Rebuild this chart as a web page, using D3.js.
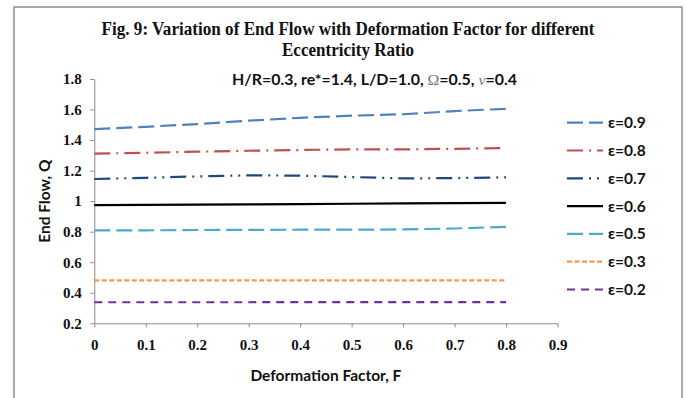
<!DOCTYPE html>
<html>
<head>
<meta charset="utf-8">
<script src="https://cdn.jsdelivr.net/npm/d3@7"></script>
<style>
  body { margin: 0; background: #fff; }
  svg { display: block; }
</style>
</head>
<body>
<main></main>
<script>
// deformation factor F
const deformation = [0, 0.1, 0.2, 0.3, 0.4, 0.5, 0.6, 0.7, 0.8];

// end flow Q for each eccentricity ratio
const eps09 = [1.472, 1.487, 1.505, 1.527, 1.546, 1.560, 1.569, 1.590, 1.605];
const eps08 = [1.311, 1.317, 1.324, 1.330, 1.335, 1.339, 1.339, 1.343, 1.348];
const eps07 = [1.145, 1.153, 1.162, 1.169, 1.167, 1.158, 1.149, 1.151, 1.156];
const eps06 = [0.974, 0.975, 0.977, 0.979, 0.981, 0.983, 0.985, 0.987, 0.989];
const eps05 = [0.808, 0.809, 0.811, 0.812, 0.813, 0.813, 0.815, 0.821, 0.832];
const eps03 = [0.481, 0.481, 0.481, 0.481, 0.481, 0.481, 0.481, 0.481, 0.481];
const eps02 = [0.338, 0.338, 0.338, 0.338, 0.339, 0.339, 0.339, 0.339, 0.339];

const seriesNames = ["ε=0.9", "ε=0.8", "ε=0.7", "ε=0.6", "ε=0.5", "ε=0.3", "ε=0.2"];
const seriesValues = [eps09, eps08, eps07, eps06, eps05, eps03, eps02];

const xTicks = [0, 0.1, 0.2, 0.3, 0.4, 0.5, 0.6, 0.7, 0.8, 0.9];
const yTicks = [0.2, 0.4, 0.6, 0.8, 1, 1.2, 1.4, 1.6, 1.8];

let drawChart = (w = 686, h = 398) => {
	const margin = ({top: 79, right: 128.5, bottom: 74.7, left: 94.3});

	// excel-ish line styles
	const styles = [
		{color: "#4F81BD", dash: "16,6"},
		{color: "#C0504D", dash: "16,6,2,6"},
		{color: "#1F497D", dash: "16,6,2,6,2,6"},
		{color: "#000000", dash: null},
		{color: "#4BACC6", dash: "16,6"},
		{color: "#F79646", dash: "5,2.5"},
		{color: "#7030A0", dash: "8,6"}
	];

	let x = d3.scaleLinear()
		.domain([0, 0.9])
		.range([margin.left, w - margin.right]);

	let y = d3.scaleLinear()
		.domain([0.2, 1.8])
		.range([h - margin.bottom, margin.top]);

	let svg = d3.select("main")
		.append("svg")
		.attr("width", w)
		.attr("height", h);

	// outer frame
	svg.append("rect")
		.attr("x", 14)
		.attr("y", 7)
		.attr("width", 668)
		.attr("height", 400)
		.attr("fill", "none")
		.attr("stroke", "#8c8c8c")
		.attr("stroke-width", 1.5);

	// title
	const title = svg.append("g")
		.attr("font-family", "'Liberation Serif', 'Times New Roman', serif")
		.attr("font-weight", "bold")
		.attr("font-size", 18.5)
		.attr("fill", "#111")
		.attr("text-anchor", "middle");
	title.append("text")
		.attr("x", 348).attr("y", 35)
		.attr("textLength", 493).attr("lengthAdjust", "spacingAndGlyphs")
		.text("Fig. 9: Variation of End Flow with Deformation Factor for different");
	title.append("text")
		.attr("x", 348).attr("y", 56)
		.attr("textLength", 132).attr("lengthAdjust", "spacingAndGlyphs")
		.text("Eccentricity Ratio");

	// parameters line
	const sub = svg.append("text")
		.attr("x", 374.5).attr("y", 85)
		.attr("text-anchor", "middle")
		.attr("font-family", "Lato, 'Open Sans', sans-serif")
		.attr("font-weight", "bold")
		.attr("font-size", 14.5)
		.attr("fill", "#111")
		.attr("textLength", 285).attr("lengthAdjust", "spacingAndGlyphs");
	sub.append("tspan").text("H/R=0.3, re*=1.4, L/D=1.0, ");
	sub.append("tspan").attr("font-family", "'Liberation Serif', serif").attr("font-weight", "normal").attr("fill", "#777").text("Ω");
	sub.append("tspan").text("=0.5, ");
	sub.append("tspan").attr("font-family", "'Liberation Serif', serif").attr("font-weight", "normal").attr("font-style", "italic").attr("fill", "#777").text("ν");
	sub.append("tspan").text("=0.4");

	let xAxis = g => { g
		.attr("transform", `translate(0,${h - margin.bottom})`)
		.call(d3.axisBottom(x).tickValues(xTicks).tickFormat(d3.format("")).tickSize(4).tickPadding(12).tickSizeOuter(0))
		.call(g => g.select(".domain").attr("stroke", "#8c8c8c"))
		.call(g => g.selectAll(".tick line").attr("stroke", "#8c8c8c"))
	};

	let yAxis = g => { g
		.attr("transform", `translate(${margin.left},0)`)
		.call(d3.axisLeft(y).tickValues(yTicks).tickFormat(d3.format("")).tickSize(4).tickPadding(8.5).tickSizeOuter(0))
		.call(g => g.select(".domain").attr("stroke", "#8c8c8c"))
		.call(g => g.selectAll(".tick line").attr("stroke", "#8c8c8c"))
	};

	[xAxis, yAxis].forEach(ax => {
		svg.append("g")
			.call(ax)
			.call(g => g.selectAll("text")
				.attr("font-family", "'Liberation Serif', 'Times New Roman', serif")
				.attr("font-weight", "bold")
				.attr("font-size", 15)
				.attr("fill", "#111"));
	});

	// lines
	let line = d3.line()
		.x((d, i) => x(deformation[i]))
		.y(d => y(d));

	svg.append("g")
		.selectAll("path")
		.data(seriesValues)
		.join("path")
			.attr("d", line)
			.attr("fill", "none")
			.attr("stroke", (d, i) => styles[i].color)
			.attr("stroke-width", 2.2)
			.attr("stroke-dasharray", (d, i) => styles[i].dash);

	// axis titles
	const labelFont = "Lato, 'Open Sans', sans-serif";
	svg.append("text")
		.attr("x", (margin.left + w - margin.right) / 2)
		.attr("y", 381)
		.attr("text-anchor", "middle")
		.attr("font-family", labelFont)
		.attr("font-weight", "bold")
		.attr("font-size", 15.5)
		.attr("fill", "#111")
		.text("Deformation Factor, F");

	svg.append("text")
		.attr("transform", `translate(50,${(margin.top + h - margin.bottom) / 2}) rotate(-90)`)
		.attr("text-anchor", "middle")
		.attr("font-family", labelFont)
		.attr("font-weight", "bold")
		.attr("font-size", 15.5)
		.attr("fill", "#111")
		.text("End Flow, Q");

	// legend
	const legend = svg.append("g")
		.attr("font-family", labelFont)
		.attr("font-weight", "bold")
		.attr("font-size", 15.5)
		.attr("fill", "#111")
		.selectAll("g")
		.data(seriesNames)
		.join("g")
			.attr("transform", (d, i) => `translate(567,${122.7 + i * 27.8})`);

	legend.append("line")
		.attr("x1", 0).attr("x2", 36)
		.attr("stroke", (d, i) => styles[i].color)
		.attr("stroke-width", 2.2)
		.attr("stroke-dasharray", (d, i) => styles[i].dash);

	legend.append("text")
		.attr("x", 41)
		.attr("dy", "0.35em")
		.text(d => d);
};

drawChart();
</script>
</body>
</html>
